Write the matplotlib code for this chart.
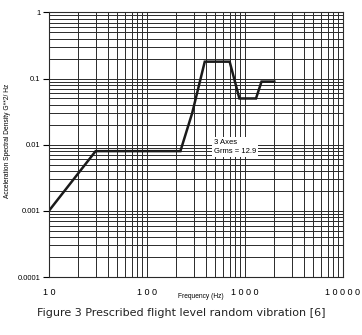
import matplotlib
matplotlib.use("Agg")
import matplotlib.pyplot as plt
import numpy as np
from matplotlib.ticker import LogLocator, NullFormatter

# flight level random vibration profile
freq = [10, 30, 220, 290, 390, 700, 880, 1300, 1480, 2000]
asd = [0.001, 0.008, 0.008, 0.03, 0.18, 0.18, 0.05, 0.05, 0.09, 0.09]

y_ticks = [1e-4, 1e-3, 1e-2, 1e-1, 1]
y_labels = ["0.0001", "0.001", "0.01", "0.1", "1"]
x_ticks = [10, 100, 1000, 10000]
x_labels = ["1 0", "1 0 0", "1 0 0 0", "1 0 0 0 0"]

fig = plt.figure(figsize=(3.62, 3.35), dpi=100)
ax = fig.add_axes([0.135, 0.173, 0.812, 0.79])

ax.plot(freq, asd, color="#1a1a1a", lw=1.8, solid_joinstyle="miter")
ax.set_xscale("log")
ax.set_yscale("log")
ax.set_xlim(10, 10000)
ax.set_ylim(1e-4, 1)

ax.yaxis.set_minor_locator(LogLocator(base=10, subs=np.arange(2, 10)))
ax.xaxis.set_minor_locator(LogLocator(base=10, subs=np.arange(2, 10)))
ax.yaxis.set_minor_formatter(NullFormatter())
ax.xaxis.set_minor_formatter(NullFormatter())
ax.grid(True, which="both", color="#2a2a2a", lw=0.7)

ax.set_yticks(y_ticks)
ax.set_yticklabels(y_labels, fontsize=5.5, family="Liberation Sans")
ax.set_xticks(x_ticks)
ax.set_xticklabels(x_labels, fontsize=6.5, family="Liberation Sans")
ax.tick_params(axis="y", which="major", length=4, width=0.8, direction="out", pad=2)
ax.tick_params(axis="x", which="major", length=0, pad=8)
ax.tick_params(which="minor", length=0)
for s in ax.spines.values():
    s.set_color("#2a2a2a")
    s.set_linewidth(0.8)

ax.text(480, 0.0092, "3 Axes\nGrms = 12.9", fontsize=5.5, family="Liberation Sans",
        va="center", ha="left", linespacing=1.4,
        bbox=dict(facecolor="white", edgecolor="none", pad=1.5))

fig.text(0.02, 0.58, "Acceleration Spectral Density G**2/ Hz", rotation=90,
         fontsize=4.8, family="Liberation Sans", va="center", ha="center")
fig.text(0.555, 0.115, "Frequency (Hz)", fontsize=4.8, family="Liberation Sans",
         va="center", ha="center")
fig.text(0.5, 0.065, "Figure 3 Prescribed flight level random vibration [6]",
         fontsize=8.0, family="DejaVu Sans", va="center", ha="center", color="#222")

fig.savefig("out.png", dpi=100)
